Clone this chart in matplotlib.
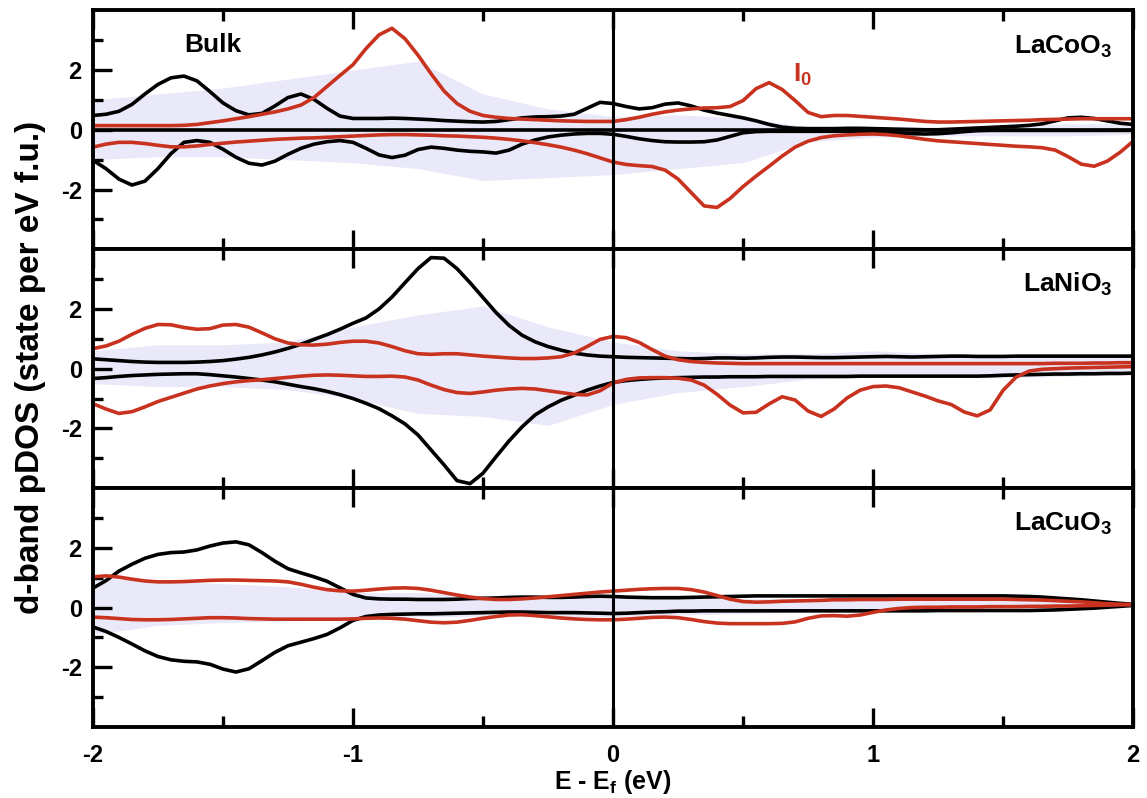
import matplotlib.pyplot as plt
import numpy as np
from matplotlib.ticker import FixedLocator

# |------|
# | Data |
# |------|
energy = np.linspace(-2.0, 2.0, 81)  # E - E_f sampled every 0.05 eV
haze_energy = np.linspace(-2.0, 2.0, 17)  # coarser grid for the shaded band

# LaCoO3
co_bulk_up = [
    0.48, 0.52, 0.62, 0.85, 1.20, 1.52, 1.74, 1.80, 1.64, 1.28, 0.90,
    0.64, 0.50, 0.55, 0.80, 1.08, 1.20, 1.02, 0.72, 0.46, 0.38,
    0.38, 0.38, 0.39, 0.38, 0.36, 0.34, 0.31, 0.29, 0.27, 0.26,
    0.28, 0.34, 0.40, 0.43, 0.44, 0.46, 0.52, 0.72, 0.92, 0.88,
    0.78, 0.70, 0.74, 0.86, 0.90, 0.80, 0.66, 0.56, 0.48, 0.40,
    0.30, 0.18, 0.09, 0.05, 0.04, 0.04, 0.04, 0.05, 0.05, 0.04,
    0.03, 0.02, 0.01, 0.00, 0.00, 0.02, 0.04, 0.06, 0.08, 0.10,
    0.12, 0.15, 0.20, 0.30, 0.40, 0.42, 0.38, 0.30, 0.22, 0.18,
]
co_bulk_dn = [
    -1.02, -1.30, -1.65, -1.85, -1.72, -1.30, -0.80, -0.42, -0.36, -0.42, -0.65,
    -0.92, -1.12, -1.18, -1.05, -0.82, -0.62, -0.48, -0.40, -0.36, -0.42,
    -0.62, -0.84, -0.93, -0.85, -0.66, -0.58, -0.62, -0.68, -0.72, -0.74,
    -0.78, -0.68, -0.48, -0.34, -0.24, -0.18, -0.14, -0.12, -0.12, -0.15,
    -0.22, -0.30, -0.36, -0.40, -0.41, -0.41, -0.40, -0.34, -0.22, -0.10,
    -0.06, -0.05, -0.05, -0.05, -0.05, -0.05, -0.05, -0.05, -0.06, -0.06,
    -0.08, -0.11, -0.13, -0.14, -0.13, -0.10, -0.06, -0.03, -0.02, -0.02,
    -0.02, -0.02, -0.02, -0.02, -0.02, -0.02, -0.02, -0.02, -0.02, -0.02,
]
co_i0_up = [
    0.14, 0.14, 0.14, 0.14, 0.14, 0.14, 0.14, 0.15, 0.18, 0.24, 0.30,
    0.37, 0.44, 0.52, 0.60, 0.70, 0.83, 1.08, 1.45, 1.82, 2.18,
    2.72, 3.18, 3.40, 3.05, 2.50, 1.88, 1.30, 0.88, 0.62, 0.48,
    0.42, 0.38, 0.36, 0.34, 0.32, 0.30, 0.29, 0.28, 0.28, 0.28,
    0.34, 0.42, 0.52, 0.60, 0.66, 0.70, 0.73, 0.74, 0.78, 0.98,
    1.38, 1.58, 1.35, 0.98, 0.58, 0.44, 0.48, 0.48, 0.45, 0.42,
    0.39, 0.36, 0.32, 0.28, 0.26, 0.26, 0.27, 0.28, 0.29, 0.30,
    0.31, 0.32, 0.34, 0.35, 0.36, 0.37, 0.37, 0.37, 0.37, 0.37,
]
co_i0_dn = [
    -0.58, -0.48, -0.42, -0.42, -0.46, -0.52, -0.57, -0.57, -0.54, -0.49, -0.45,
    -0.41, -0.38, -0.35, -0.32, -0.30, -0.28, -0.27, -0.25, -0.23, -0.21,
    -0.19, -0.17, -0.16, -0.16, -0.17, -0.18, -0.20, -0.21, -0.23, -0.25,
    -0.28, -0.32, -0.37, -0.43, -0.50, -0.58, -0.68, -0.80, -0.94, -1.08,
    -1.16, -1.20, -1.23, -1.35, -1.65, -2.10, -2.55, -2.60, -2.30, -1.90,
    -1.55, -1.22, -0.88, -0.58, -0.38, -0.26, -0.20, -0.17, -0.15, -0.14,
    -0.16, -0.20, -0.26, -0.32, -0.37, -0.40, -0.43, -0.46, -0.49, -0.52,
    -0.55, -0.57, -0.60, -0.68, -0.90, -1.15, -1.22, -1.05, -0.75, -0.38,
]
co_haze_hi = [1.0, 1.2, 1.4, 1.7, 2.0, 2.3, 1.2, 0.7, 0.45, 0.5, 0.4, 0.1, 0.1, 0.1, 0.15, 0.2, 0.2]
co_haze_lo = [-1.0, -0.9, -0.9, -1.0, -1.1, -1.3, -1.7, -1.6, -1.5, -1.3, -1.1, -0.4, -0.25, -0.2, -0.2, -0.2, -0.15]

# LaNiO3
ni_bulk_up = [
    0.33, 0.30, 0.27, 0.24, 0.22, 0.21, 0.21, 0.21, 0.22, 0.24, 0.27,
    0.32, 0.38, 0.46, 0.56, 0.68, 0.82, 0.98, 1.14, 1.32, 1.52,
    1.70, 2.00, 2.40, 2.88, 3.35, 3.72, 3.70, 3.35, 2.88, 2.38,
    1.88, 1.45, 1.12, 0.90, 0.74, 0.62, 0.52, 0.46, 0.42, 0.40,
    0.38, 0.37, 0.36, 0.35, 0.34, 0.33, 0.34, 0.36, 0.36, 0.35,
    0.36, 0.38, 0.39, 0.39, 0.38, 0.37, 0.37, 0.38, 0.39, 0.40,
    0.41, 0.40, 0.39, 0.40, 0.41, 0.42, 0.42, 0.41, 0.41, 0.41,
    0.42, 0.42, 0.42, 0.42, 0.42, 0.42, 0.42, 0.42, 0.42, 0.42,
]
ni_bulk_dn = [
    -0.33, -0.30, -0.26, -0.23, -0.21, -0.19, -0.18, -0.17, -0.17, -0.20, -0.24,
    -0.28, -0.33, -0.38, -0.44, -0.52, -0.60, -0.67, -0.76, -0.87, -1.00,
    -1.16, -1.34, -1.58, -1.85, -2.22, -2.72, -3.22, -3.75, -3.85, -3.50,
    -2.95, -2.42, -1.95, -1.55, -1.28, -1.06, -0.89, -0.72, -0.58, -0.46,
    -0.40, -0.36, -0.33, -0.31, -0.30, -0.29, -0.28, -0.28, -0.27, -0.27,
    -0.27, -0.26, -0.26, -0.26, -0.26, -0.26, -0.26, -0.26, -0.25, -0.25,
    -0.25, -0.25, -0.25, -0.25, -0.25, -0.25, -0.25, -0.25, -0.24, -0.22,
    -0.21, -0.20, -0.19, -0.18, -0.18, -0.17, -0.17, -0.16, -0.16, -0.15,
]
ni_i0_up = [
    0.67, 0.76, 0.92, 1.15, 1.35, 1.48, 1.47, 1.38, 1.32, 1.34, 1.46,
    1.48, 1.39, 1.20, 1.00, 0.86, 0.80, 0.79, 0.82, 0.88, 0.92,
    0.92, 0.86, 0.74, 0.60, 0.50, 0.48, 0.50, 0.50, 0.46, 0.42,
    0.39, 0.36, 0.34, 0.34, 0.36, 0.40, 0.52, 0.74, 0.98, 1.08,
    1.04, 0.88, 0.64, 0.42, 0.30, 0.24, 0.21, 0.19, 0.18, 0.17,
    0.17, 0.17, 0.17, 0.17, 0.17, 0.17, 0.17, 0.17, 0.17, 0.17,
    0.17, 0.17, 0.17, 0.17, 0.17, 0.17, 0.17, 0.17, 0.17, 0.17,
    0.17, 0.17, 0.17, 0.18, 0.18, 0.18, 0.19, 0.19, 0.20, 0.20,
]
ni_i0_dn = [
    -1.17, -1.35, -1.50, -1.44, -1.28, -1.10, -0.96, -0.82, -0.68, -0.58, -0.50,
    -0.44, -0.40, -0.37, -0.33, -0.29, -0.25, -0.22, -0.21, -0.22, -0.24,
    -0.26, -0.26, -0.25, -0.28, -0.38, -0.55, -0.70, -0.80, -0.83, -0.78,
    -0.72, -0.68, -0.66, -0.68, -0.74, -0.80, -0.86, -0.88, -0.74, -0.48,
    -0.36, -0.31, -0.30, -0.30, -0.32, -0.38, -0.55, -0.86, -1.22, -1.48,
    -1.46, -1.18, -0.94, -1.05, -1.42, -1.60, -1.35, -0.98, -0.72, -0.60,
    -0.58, -0.64, -0.78, -0.92, -1.08, -1.20, -1.45, -1.58, -1.38, -0.72,
    -0.28, -0.08, -0.02, 0.00, 0.02, 0.03, 0.04, 0.05, 0.06, 0.07,
]
ni_haze_hi = [0.6, 0.8, 0.8, 0.9, 1.4, 1.8, 2.1, 1.4, 0.9, 0.6, 0.5, 0.5, 0.6, 0.5, 0.45, 0.45, 0.45]
ni_haze_lo = [-0.5, -0.6, -0.6, -0.7, -1.0, -1.5, -1.6, -1.9, -1.2, -0.8, -0.6, -0.35, -0.3, -0.3, -0.3, -0.25, -0.2]

# LaCuO3
cu_bulk_up = [
    0.65, 0.90, 1.22, 1.45, 1.65, 1.78, 1.84, 1.86, 1.93, 2.06, 2.16,
    2.20, 2.10, 1.84, 1.55, 1.30, 1.16, 1.03, 0.88, 0.66, 0.44,
    0.32, 0.29, 0.28, 0.28, 0.27, 0.27, 0.27, 0.28, 0.30, 0.31,
    0.32, 0.34, 0.35, 0.35, 0.34, 0.34, 0.35, 0.37, 0.38, 0.37,
    0.35, 0.34, 0.33, 0.33, 0.33, 0.34, 0.35, 0.36, 0.37, 0.38,
    0.39, 0.39, 0.39, 0.39, 0.39, 0.39, 0.39, 0.39, 0.39, 0.39,
    0.39, 0.39, 0.39, 0.39, 0.39, 0.39, 0.39, 0.39, 0.39, 0.39,
    0.38, 0.37, 0.35, 0.32, 0.29, 0.26, 0.22, 0.18, 0.14, 0.11,
]
cu_bulk_dn = [
    -0.65, -0.80, -1.00, -1.22, -1.45, -1.64, -1.75, -1.80, -1.82, -1.90, -2.06,
    -2.16, -2.05, -1.78, -1.50, -1.28, -1.16, -1.04, -0.90, -0.68, -0.43,
    -0.30, -0.25, -0.23, -0.22, -0.21, -0.21, -0.20, -0.19, -0.18, -0.17,
    -0.16, -0.15, -0.15, -0.16, -0.17, -0.17, -0.17, -0.18, -0.19, -0.20,
    -0.19, -0.17, -0.15, -0.14, -0.12, -0.12, -0.11, -0.11, -0.11, -0.11,
    -0.11, -0.11, -0.11, -0.11, -0.11, -0.11, -0.11, -0.11, -0.11, -0.11,
    -0.11, -0.11, -0.11, -0.11, -0.10, -0.10, -0.10, -0.10, -0.10, -0.10,
    -0.10, -0.10, -0.09, -0.08, -0.06, -0.04, -0.02, 0.01, 0.04, 0.07,
]
cu_i0_up = [
    1.03, 1.06, 1.02, 0.95, 0.89, 0.86, 0.86, 0.87, 0.89, 0.91, 0.92,
    0.92, 0.91, 0.90, 0.89, 0.86, 0.78, 0.68, 0.60, 0.56, 0.55,
    0.58, 0.62, 0.65, 0.66, 0.64, 0.58, 0.50, 0.42, 0.35, 0.30,
    0.27, 0.27, 0.29, 0.32, 0.36, 0.40, 0.44, 0.48, 0.52, 0.55,
    0.58, 0.61, 0.63, 0.64, 0.64, 0.60, 0.52, 0.40, 0.28, 0.20,
    0.18, 0.19, 0.21, 0.22, 0.23, 0.24, 0.26, 0.26, 0.27, 0.27,
    0.27, 0.28, 0.28, 0.28, 0.28, 0.28, 0.28, 0.28, 0.28, 0.28,
    0.27, 0.26, 0.25, 0.23, 0.21, 0.19, 0.16, 0.13, 0.11, 0.10,
]
cu_i0_dn = [
    -0.32, -0.34, -0.37, -0.40, -0.41, -0.41, -0.40, -0.38, -0.36, -0.34, -0.34,
    -0.35, -0.37, -0.38, -0.39, -0.39, -0.39, -0.39, -0.39, -0.39, -0.38,
    -0.36, -0.35, -0.36, -0.39, -0.44, -0.49, -0.51, -0.49, -0.43, -0.36,
    -0.30, -0.25, -0.24, -0.27, -0.31, -0.35, -0.38, -0.40, -0.41, -0.41,
    -0.39, -0.36, -0.33, -0.32, -0.34, -0.40, -0.47, -0.52, -0.54, -0.54,
    -0.54, -0.54, -0.53, -0.48, -0.36, -0.28, -0.27, -0.29, -0.25, -0.16,
    -0.08, -0.03, 0.00, 0.01, 0.01, 0.02, 0.02, 0.02, 0.03, 0.03,
    0.03, 0.04, 0.04, 0.05, 0.05, 0.06, 0.07, 0.08, 0.09, 0.10,
]
cu_haze_hi = [1.0, 0.9, 0.8, 0.7, 0.5, 0.5, 0.4, 0.4, 0.4, 0.4, 0.3, 0.3, 0.3, 0.3, 0.3, 0.25, 0.15]
cu_haze_lo = [-0.9, -0.6, -0.5, -0.45, -0.4, -0.3, -0.3, -0.3, -0.3, -0.25, -0.2, -0.15, -0.15, -0.12, -0.1, -0.05, 0.05]

panels = [
    ("LaCoO$_3$", co_bulk_up, co_bulk_dn, co_i0_up, co_i0_dn, co_haze_hi, co_haze_lo),
    ("LaNiO$_3$", ni_bulk_up, ni_bulk_dn, ni_i0_up, ni_i0_dn, ni_haze_hi, ni_haze_lo),
    ("LaCuO$_3$", cu_bulk_up, cu_bulk_dn, cu_i0_up, cu_i0_dn, cu_haze_hi, cu_haze_lo),
]

# |-------|
# | Style |
# |-------|
plt.rcParams["font.family"] = ["Liberation Sans", "DejaVu Sans"]
plt.rcParams["font.weight"] = "bold"
plt.rcParams["mathtext.default"] = "regular"
plt.rcParams["axes.unicode_minus"] = False
plt.rcParams["lines.solid_joinstyle"] = "round"

RED = "#c8321f"
HAZE = "#b8b8ec"
LW = 2.6

fig, axes = plt.subplots(3, 1, figsize=(11.47, 7.98), dpi=100, sharex=True)
fig.subplots_adjust(left=0.081, right=0.988, top=0.987, bottom=0.089, hspace=0)

for i, (ax, (name, b_up, b_dn, r_up, r_dn, h_hi, h_lo)) in enumerate(zip(axes, panels)):
    # soft shaded band behind the curves
    ax.fill_between(haze_energy, h_lo, h_hi, color=HAZE, alpha=0.3, lw=0)
    if i == 0:
        ax.axhline(0, color="k", lw=LW)
    ax.plot(energy, b_up, color="k", lw=LW)
    ax.plot(energy, b_dn, color="k", lw=LW)
    ax.plot(energy, r_up, color=RED, lw=LW)
    ax.plot(energy, r_dn, color=RED, lw=LW)
    ax.axvline(0, color="k", lw=2.2)

    ax.set_xlim(-2, 2)
    ax.set_ylim(-4, 4)
    ax.yaxis.set_major_locator(FixedLocator([-2, 0, 2]))
    ax.yaxis.set_minor_locator(FixedLocator([-3, -1, 1, 3]))
    ax.xaxis.set_major_locator(FixedLocator([-2, -1, 0, 1, 2]))
    ax.xaxis.set_minor_locator(FixedLocator([-1.5, -0.5, 0.5, 1.5]))
    ax.tick_params(axis="both", which="both", direction="in", width=2.4,
                   labelsize=17, right=False)
    ax.tick_params(axis="x", which="both", top=True)
    ax.tick_params(axis="y", which="major", length=14, pad=8)
    ax.tick_params(axis="y", which="minor", length=7)
    ax.tick_params(axis="x", which="major", length=14, pad=12)
    ax.tick_params(axis="x", which="minor", length=8)
    for spine in ax.spines.values():
        spine.set_linewidth(2.8)

    ax.text(0.98, 0.82, name, transform=ax.transAxes, ha="right",
            va="baseline", fontsize=19, fontweight="bold")

axes[0].text(-1.54, 2.62, "Bulk", fontsize=19, fontweight="bold", ha="center")
axes[0].text(0.69, 1.6, "I$_0$", fontsize=19, fontweight="bold", color=RED)

fig.text(0.534, 0.003, "E - E$_f$ (eV)", ha="center", va="bottom",
         fontsize=18, fontweight="bold")
fig.text(0.027, 0.54, "d-band pDOS (state per eV f.u.)", rotation=90,
         ha="center", va="center", fontsize=24, fontweight="bold")

fig.savefig("out.png", dpi=100)
